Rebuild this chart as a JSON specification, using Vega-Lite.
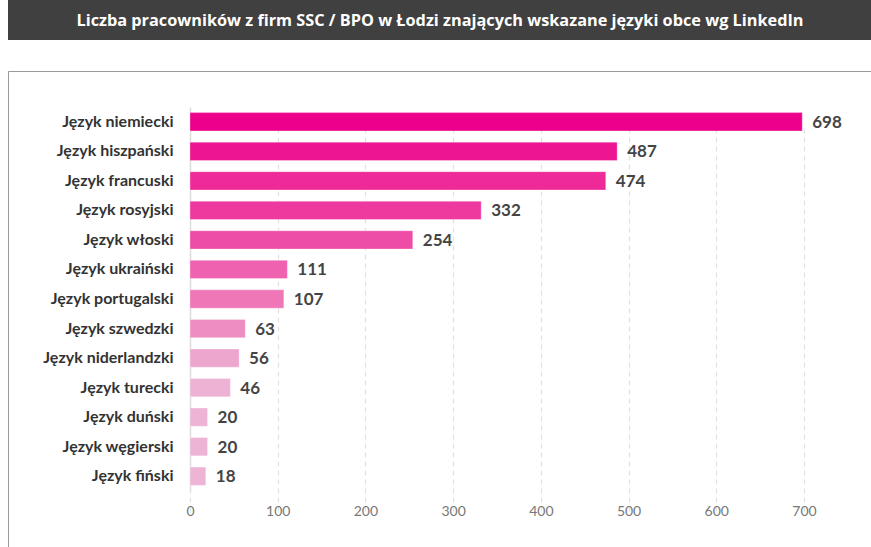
{
  "$schema": "https://vega.github.io/schema/vega-lite/v6.json",
  "padding": {"left": 7, "top": 0, "right": 0, "bottom": 0},
  "background": "white",
  "spacing": 30,
  "config": {"font": "Lato", "view": {"stroke": null}},
  "data": {"values": [
    {"lang": "Język niemiecki", "value": 698},
    {"lang": "Język hiszpański", "value": 487},
    {"lang": "Język francuski", "value": 474},
    {"lang": "Język rosyjski", "value": 332},
    {"lang": "Język włoski", "value": 254},
    {"lang": "Język ukraiński", "value": 111},
    {"lang": "Język portugalski", "value": 107},
    {"lang": "Język szwedzki", "value": 63},
    {"lang": "Język niderlandzki", "value": 56},
    {"lang": "Język turecki", "value": 46},
    {"lang": "Język duński", "value": 20},
    {"lang": "Język węgierski", "value": 20},
    {"lang": "Język fiński", "value": 18}
  ]},
  "vconcat": [
    {
      "width": 864,
      "height": 40,
      "view": {"fill": "#404040", "stroke": null},
      "data": {"values": [{"t": "Liczba pracowników z firm SSC / BPO w Łodzi znających wskazane języki obce wg LinkedIn"}]},
      "mark": {"type": "text", "color": "white", "fontSize": 16.3, "fontWeight": "bold", "align": "center", "baseline": "middle", "font": "Open Sans", "dy": 1},
      "encoding": {"text": {"field": "t"}}
    },
    {
      "width": 863,
      "height": 476,
      "view": {"stroke": "#9a9a9a", "strokeWidth": 1, "strokeDash": [863, 1339, 476], "fill": "white"},
      "encoding": {
        "y": {
          "field": "lang", "type": "nominal", "sort": null,
          "scale": {"range": [36, 420], "paddingInner": 0.38, "paddingOuter": 0.19},
          "axis": {"title": null, "orient": "left", "offset": -182, "ticks": false, "domain": true, "domainColor": "#dddddd", "domainWidth": 1.5, "labelFont": "Lato", "labelFontSize": 16, "labelFontWeight": "bold", "labelColor": "#333333", "labelPadding": 17, "grid": false}
        },
        "x": {
          "field": "value", "type": "quantitative",
          "scale": {"domain": [0, 700], "range": [182, 796], "nice": false},
          "axis": {"title": null, "orient": "bottom", "offset": -44, "values": [0, 100, 200, 300, 400, 500, 600, 700], "ticks": false, "domain": false, "grid": true, "gridColor": "#e2e2e2", "gridDash": [5, 4], "gridWidth": 1.2, "labelFont": "Lato", "labelFontSize": 14, "labelColor": "#777777", "labelPadding": 1, "labelFlush": false}
        }
      },
      "layer": [
        {
          "mark": {"type": "bar", "stroke": "white", "strokeOpacity": 0.4, "strokeWidth": 0.8},
          "encoding": {
            "color": {
              "field": "lang", "type": "nominal", "legend": null,
              "scale": {
                "domain": ["Język niemiecki", "Język hiszpański", "Język francuski", "Język rosyjski", "Język włoski", "Język ukraiński", "Język portugalski", "Język szwedzki", "Język niderlandzki", "Język turecki", "Język duński", "Język węgierski", "Język fiński"],
                "range": ["#EC008C", "#ED1592", "#EE2A98", "#EE3A9F", "#EE4DA7", "#EF62AF", "#EF77B8", "#EE8DC2", "#EDA6CE", "#EDB2D4", "#EDB4D6", "#EDB4D6", "#EDB4D6"]
              }
            }
          }
        },
        {
          "mark": {"type": "text", "align": "left", "baseline": "middle", "dx": 10, "dy": 1, "fontSize": 17, "fontWeight": "bold", "color": "#444444", "font": "Lato"},
          "encoding": {"text": {"field": "value", "type": "quantitative"}}
        }
      ]
    }
  ]
}
